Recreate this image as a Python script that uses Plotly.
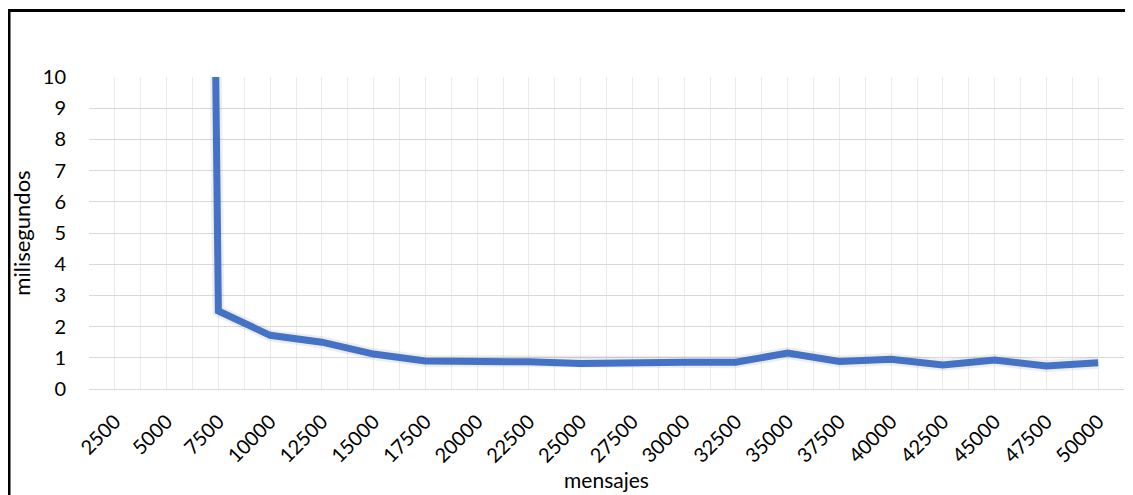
import plotly.graph_objects as go

mensajes = ["2500", "5000", "7500", "10000", "12500", "15000", "17500", "20000", "22500", "25000",
            "27500", "30000", "32500", "35000", "37500", "40000", "42500", "45000", "47500", "50000"]
milisegundos = [200, 150, 2.5, 1.72, 1.5, 1.12, 0.9, 0.9, 0.87, 0.82,
                0.86, 0.86, 0.86, 1.15, 0.88, 0.95, 0.77, 0.93, 0.74, 0.84]
y_ticks = list(range(0, 11))

pos = list(range(len(mensajes)))

fig = go.Figure()
fig.add_trace(go.Scatter(x=pos, y=milisegundos, mode="lines",
                         line=dict(color="rgba(0,0,0,0.07)", width=12),
                         hoverinfo="skip", showlegend=False))
fig.add_trace(go.Scatter(x=pos, y=milisegundos, mode="lines",
                         line=dict(color="#4472C4", width=7),
                         showlegend=False))

# page body has an 8px margin, so figure coordinates are offset by 8px
L, R, T, B = 81, 17, 69, 114
W, H = 1133, 495
pw, ph = W - L - R, H - T - B

fig.update_layout(
    width=W, height=H,
    margin=dict(l=L, r=R, t=T, b=B, autoexpand=False),
    paper_bgcolor="white", plot_bgcolor="white",
    font=dict(family="Lato, Carlito, Calibri, sans-serif", size=20, color="#000000"),
    xaxis=dict(
        range=[-0.5, len(mensajes) - 0.5],
        tickmode="array", tickvals=pos, ticktext=mensajes,
        tickangle=-45, ticks="", showline=False, zeroline=False,
        showgrid=True, gridcolor="#ebebeb", gridwidth=1,
        minor=dict(tick0=-0.5, dtick=0.5, showgrid=True, gridcolor="#ebebeb", gridwidth=1, ticks=""),
        title=dict(text="mensajes", font=dict(size=21), standoff=5),
        tickfont=dict(size=20),
        ticklabelstandoff=16,
        automargin=False,
        fixedrange=True,
    ),
    yaxis=dict(
        range=[0, 10],
        tickmode="array", tickvals=y_ticks,
        ticks="", showline=False, zeroline=True, zerolinecolor="#d9d9d9", zerolinewidth=1,
        showgrid=True, gridcolor="#d9d9d9", gridwidth=1,
        title=dict(text="milisegundos", font=dict(size=22), standoff=10),
        tickfont=dict(size=20),
        ticklabelstandoff=22,
        automargin=False,
        fixedrange=True,
    ),
    shapes=[dict(type="rect", xref="paper", yref="paper",
                 x0=(1 - L) / pw, x1=(W + 10 - L) / pw,
                 y0=-(H + 10 - (T + ph)) / ph, y1=(T + ph - 2.5) / ph,
                 line=dict(color="black", width=3), fillcolor="rgba(0,0,0,0)", layer="above")],
)

fig.write_html("out.html")
